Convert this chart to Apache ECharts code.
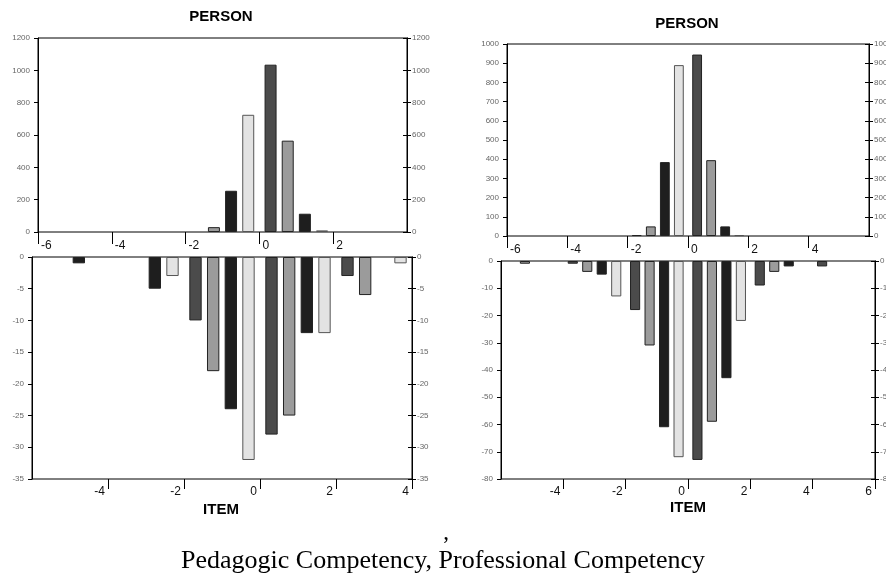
<!DOCTYPE html>
<html>
<head>
<meta charset="utf-8">
<script src="https://cdn.jsdelivr.net/npm/echarts@6/dist/echarts.min.js"></script>
<style>
html,body{margin:0;padding:0;background:#fff;}
#c{width:886px;height:580px;}
</style>
</head>
<body>
<div id="c"></div>
<script>
// Categories: each category spans 2 logits, 4 sub-bins (series) per category
const leftCats = ['-5', '-3', '-1', '1', '3'];
const rightCats = ['-5', '-3', '-1', '1', '3', '5'];
const binNames = ['bin1', 'bin2', 'bin3', 'bin4'];
const binColors = ['#4b4b4b', '#9b9b9b', '#1e1e1e', '#e3e3e3'];

// Left panel (Pedagogic Competency) – PERSON counts
const lpBin1 = [null, null, null, 1035, null];
const lpBin2 = [null, null, 30, 565, null];
const lpBin3 = [null, null, 255, 113, null];
const lpBin4 = [null, null, 725, 10, null];
// Left panel – ITEM counts (drawn downward)
const liBin1 = [null, null, -10, -28, -3];
const liBin2 = [null, null, -18, -25, -6];
const liBin3 = [-1, -5, -24, -12, null];
const liBin4 = [null, -3, -32, -12, -1];

// Right panel (Professional Competency) – PERSON counts
const rpBin1 = [null, null, 5, 945, null, null];
const rpBin2 = [null, null, 50, 395, null, null];
const rpBin3 = [null, null, 385, 50, null, null];
const rpBin4 = [null, null, 890, 5, null, null];
// Right panel – ITEM counts
const riBin1 = [null, -1, -18, -73, -9, -2];
const riBin2 = [-1, -4, -31, -59, -4, null];
const riBin3 = [null, -5, -61, -43, -2, null];
const riBin4 = [null, -13, -72, -22, null, null];

// Axis ranges / ticks
const leftX = {min: -6, max: 4, interval: 2};
const rightX = {min: -6, max: 6, interval: 2};
const lpY = {min: 0, max: 1200, interval: 200};
const liY = {min: -35, max: 0, interval: 5};
const rpY = {min: 0, max: 1000, interval: 100};
const riY = {min: -80, max: 0, interval: 10};

const caption = 'Pedagogic Competency, Professional Competency';

const FONT = '"Liberation Sans", Arial, sans-serif';
const SERIF = '"Liberation Serif", "Times New Roman", serif';

const grids = [
  {left: 38, top: 38, width: 369, height: 194},
  {left: 32, top: 257, width: 380, height: 222},
  {left: 507, top: 44, width: 362, height: 192},
  {left: 501, top: 261, width: 374, height: 218}
].map(g => Object.assign({show: true, borderColor: '#000', borderWidth: 1, containLabel: false, outerBoundsMode: 'none'}, g));

function catAxis(g, cats) {
  return {type: 'category', gridIndex: g, data: cats, show: false, position: 'top', boundaryGap: true,
    axisLine: {onZero: false}};
}
function valX(g, r, isTop) {
  return {
    type: 'value', gridIndex: g, min: r.min, max: r.max, interval: r.interval, position: 'bottom',
    axisLine: {show: false, onZero: false}, splitLine: {show: false},
    axisTick: {show: true, length: isTop ? 12 : 10, lineStyle: {color: '#000', width: 1}},
    axisLabel: {
      show: true, fontSize: 12, color: '#111', fontFamily: FONT,
      align: isTop ? 'left' : 'right',
      padding: isTop ? [0, 0, 0, 3] : [0, 3, 0, 0],
      margin: isTop ? 8 : 7,
      showMinLabel: isTop, showMaxLabel: !isTop,
      formatter: v => String(v)
    }
  };
}
function yAx(g, r, pos, innerTicks) {
  return {
    type: 'value', gridIndex: g, min: r.min, max: r.max, interval: r.interval, position: pos,
    axisLine: {show: true, onZero: false, lineStyle: {color: '#000', width: 1}},
    axisTick: {show: true, inside: !!innerTicks, length: 4, lineStyle: {color: '#000'}},
    splitLine: {show: false},
    axisLabel: {show: !innerTicks, fontSize: 8, color: '#666', fontFamily: FONT, margin: pos === 'left' ? 8 : 5,
      formatter: v => String(v)}
  };
}

const xAxis = [
  catAxis(0, leftCats), valX(0, leftX, true),
  catAxis(1, leftCats), valX(1, leftX, false),
  catAxis(2, rightCats), valX(2, rightX, true),
  catAxis(3, rightCats), valX(3, rightX, false)
];
const yAxis = [
  yAx(0, lpY, 'left'), yAx(0, lpY, 'right'),
  yAx(1, liY, 'left'), yAx(1, liY, 'right'),
  yAx(2, rpY, 'left'), yAx(2, rpY, 'right'),
  yAx(3, riY, 'left'), yAx(3, riY, 'right'),
  // inner half of the crossing ticks on the right-hand axes
  yAx(0, lpY, 'right', true), yAx(1, liY, 'right', true),
  yAx(2, rpY, 'right', true), yAx(3, riY, 'right', true)
];

const panels = [
  {x: 0, y: 0, data: [lpBin1, lpBin2, lpBin3, lpBin4]},
  {x: 2, y: 2, data: [liBin1, liBin2, liBin3, liBin4]},
  {x: 4, y: 4, data: [rpBin1, rpBin2, rpBin3, rpBin4]},
  {x: 6, y: 6, data: [riBin1, riBin2, riBin3, riBin4]}
];
const series = [];
panels.forEach((p, pi) => {
  p.data.forEach((d, i) => {
    series.push({
      type: 'bar', name: binNames[i] + '_' + pi, xAxisIndex: p.x, yAxisIndex: p.y, data: d,
      barGap: '43%', barCategoryGap: '14%',
      itemStyle: {color: binColors[i], borderColor: i === 3 ? '#555' : '#222', borderWidth: 1},
      emphasis: {disabled: true}, silent: true
    });
  });
});

function txt(x, y, text, font, align) {
  align = align || 'center';
  return {type: 'text', x: x, y: y, silent: true,
    style: {text: text, font: font, fill: '#000', align: align, verticalAlign: 'middle', textAlign: align, textVerticalAlign: 'middle'}};
}

const option = {
  animation: false,
  backgroundColor: '#fff',
  grid: grids,
  xAxis: xAxis,
  yAxis: yAxis,
  series: series,
  graphic: [
    txt(221, 17, 'PERSON', 'bold 15px ' + FONT),
    txt(687, 24, 'PERSON', 'bold 15px ' + FONT),
    txt(221, 510, 'ITEM', 'bold 15px ' + FONT),
    txt(688, 508, 'ITEM', 'bold 15px ' + FONT),
    txt(446, 533, ',', '23px ' + SERIF),
    txt(443, 561, caption, '26px ' + SERIF)
  ]
};

const chart = echarts.init(document.getElementById('c'), null, {renderer: 'canvas'});
chart.setOption(option);
</script>
</body>
</html>
